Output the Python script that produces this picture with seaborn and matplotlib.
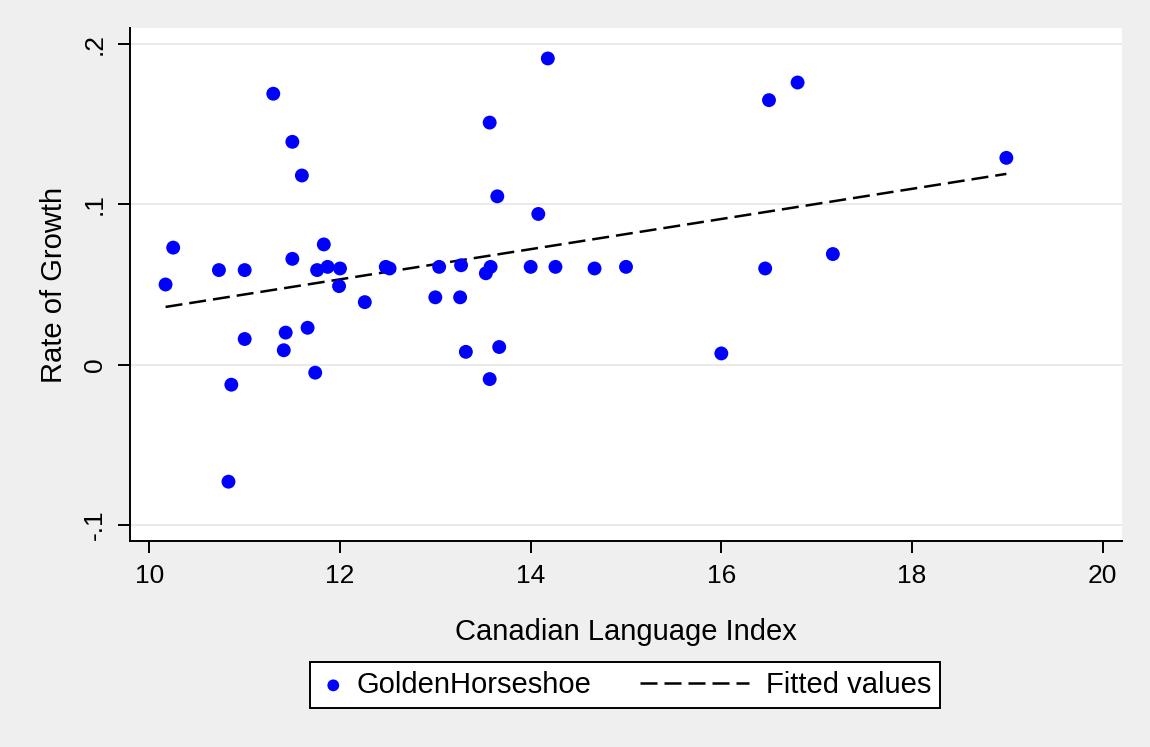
"""
Rate of growth vs Canadian Language Index (Golden Horseshoe), with linear fit.
Run: python plot.py
"""
import matplotlib
matplotlib.use("Agg")
import matplotlib.pyplot as plt
import pandas as pd
import seaborn as sns
from matplotlib.legend_handler import HandlerLine2D

sns.set_theme(style="white")
plt.rcParams["font.family"] = ["Liberation Sans", "DejaVu Sans"]
plt.rcParams["text.color"] = "black"
plt.rcParams["axes.labelcolor"] = "black"

# data
lang_index = [
    10.17, 10.25, 10.73, 10.83, 10.86, 11.00, 11.00, 11.30, 11.41, 11.43,
    11.50, 11.50, 11.60, 11.66, 11.74, 11.76, 11.83, 11.87, 11.99, 12.00,
    12.26, 12.48, 12.52, 13.00, 13.04, 13.26, 13.27, 13.32, 13.53, 13.57,
    13.57, 13.58, 13.65, 13.67, 14.00, 14.08, 14.18, 14.26, 14.67, 15.00,
    16.00, 16.46, 16.50, 16.80, 17.17, 18.99,
]
growth = [
    0.050, 0.073, 0.059, -0.073, -0.0125, 0.059, 0.016, 0.169, 0.009, 0.020,
    0.139, 0.066, 0.118, 0.023, -0.005, 0.059, 0.075, 0.061, 0.049, 0.060,
    0.039, 0.061, 0.060, 0.042, 0.061, 0.042, 0.062, 0.008, 0.057, 0.151,
    -0.009, 0.061, 0.105, 0.011, 0.061, 0.094, 0.191, 0.061, 0.060, 0.061,
    0.007, 0.060, 0.165, 0.176, 0.069, 0.129,
]
fit_x = [10.17, 18.99]
fit_y = [0.036, 0.119]

x_ticks = [10, 12, 14, 16, 18, 20]
y_ticks = [-0.1, 0, 0.1, 0.2]
y_ticklabels = ["-.1", "0", ".1", ".2"]

df = pd.DataFrame({"x": lang_index, "y": growth})
fit = pd.DataFrame({"x": fit_x, "y": fit_y})


class LongLine(HandlerLine2D):
    # legend line sample that reaches further left than the handle box
    def __init__(self, extra, trim, **kw):
        super().__init__(**kw)
        self.extra = extra
        self.trim = trim

    def create_artists(self, legend, orig_handle, xdescent, ydescent,
                       width, height, fontsize, trans):
        return super().create_artists(legend, orig_handle,
                                      xdescent + self.extra, ydescent,
                                      width + self.extra - self.trim,
                                      height, fontsize, trans)


BG = "#efefef"
fig = plt.figure(figsize=(11.5, 7.47), dpi=100, facecolor=BG)
ax = fig.add_axes([130 / 1150, 1 - 541 / 747, 992 / 1150, 513 / 747])
ax.set_facecolor("white")

sns.scatterplot(data=df, x="x", y="y", ax=ax, color="#0000ff", s=100,
                edgecolor="none", label="GoldenHorseshoe", zorder=3)
sns.lineplot(data=fit, x="x", y="y", ax=ax, color="black", lw=1.8,
             linestyle=(0, (6.8, 2.8)), label="Fitted values", zorder=2)

ax.set_xlim(9.797, 20.203)
ax.set_ylim(-0.110, 0.210)
ax.set_xticks(x_ticks)
ax.set_yticks(y_ticks)
ax.set_yticklabels(y_ticklabels, rotation=90, va="center")
ax.tick_params(axis="both", direction="out", length=8.5, width=1.4,
               labelsize=19, color="black", labelcolor="black", pad=8,
               bottom=True, left=True)
ax.grid(axis="y", color="#e6e6e6", lw=1.2)
ax.set_axisbelow(True)

for side in ["top", "right"]:
    ax.spines[side].set_visible(False)
for side in ["left", "bottom"]:
    ax.spines[side].set_color("black")
    ax.spines[side].set_linewidth(1.4)

ax.set_xlabel("Canadian Language Index", fontsize=21, labelpad=22)
ax.set_ylabel("Rate of Growth", fontsize=21, labelpad=11)

ax.get_legend().remove()
handles, labels = ax.get_legend_handles_labels()
leg = fig.legend(handles, labels, loc="center", ncol=2,
                 bbox_to_anchor=(625 / 1150, 1 - 685 / 747),
                 fontsize=21, frameon=True, fancybox=False,
                 edgecolor="black", facecolor="white", framealpha=1,
                 handlelength=1.0, columnspacing=4.66, handletextpad=0.31,
                 borderpad=0.3, markerscale=0.85,
                 handler_map={handles[1]: LongLine(extra=63, trim=5.7)})
leg.get_frame().set_linewidth(1.4)

fig.savefig("out.png", dpi=100, facecolor=BG)
